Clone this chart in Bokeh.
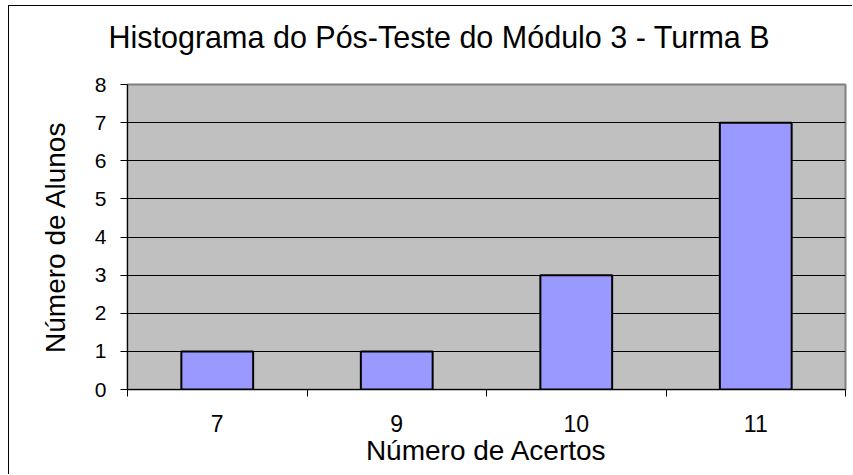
from bokeh.plotting import figure
from bokeh.models import FixedTicker, Range1d, ColumnDataSource, Title
from bokeh.embed import file_html
from bokeh.resources import INLINE

# ---- data ----
categories = ["7", "9", "10", "11"]
alunos = [1, 1, 3, 7]
y_ticks = [0, 1, 2, 3, 4, 5, 6, 7, 8]

title_text = "Histograma do Pós-Teste do Módulo 3 - Turma B"
x_title = "Número de Acertos"
y_title = "Número de Alunos"

FONT = "Liberation Sans"

xs = list(range(1, len(categories) + 1))
source = ColumnDataSource(dict(x=xs, top=alunos, cat=categories))

p = figure(
    width=844, height=469,
    output_backend="svg", toolbar_location=None,
    x_range=Range1d(0.5, len(categories) + 0.5),
    y_range=Range1d(0, 8),
    min_border_left=118, min_border_right=8,
    min_border_top=78, min_border_bottom=86,
    background_fill_color="#C0C0C0",
    border_fill_color="white",
)
p.styles = {"border-left": "1px solid black", "border-top": "1px solid black",
            "box-sizing": "border-box", "margin-left": "8px", "margin-top": "5px"}

p.vbar(x="x", top="top", bottom=0, width=0.4, source=source,
       fill_color="#9999FF", line_color="black", line_width=2)

# title
p.title.text = title_text
p.title.text_font = FONT
p.title.text_font_size = "30.5px"
p.title.text_font_style = "normal"
p.title.text_color = "black"
p.title.align = "left"
p.title.offset = -19
p.title.standoff = 0

# spacer between title and plot area
spacer = Title(text=" ", text_font=FONT, text_font_size="14px", standoff=13)
p.add_layout(spacer, "above")

# outline
p.outline_line_color = "#808080"
p.outline_line_width = 2

# grids
p.xgrid.visible = False
p.ygrid.grid_line_color = "black"
p.ygrid.grid_line_width = 1
p.ygrid.ticker = FixedTicker(ticks=y_ticks)

# y axis
p.yaxis.ticker = FixedTicker(ticks=y_ticks)
p.yaxis.axis_line_color = "black"
p.yaxis.major_tick_line_color = "black"
p.yaxis.major_tick_out = 7
p.yaxis.major_tick_in = 0
p.yaxis.minor_tick_line_color = None
p.yaxis.major_label_text_font = FONT
p.yaxis.major_label_text_font_size = "21px"
p.yaxis.major_label_text_color = "black"
p.yaxis.major_label_standoff = 14
p.yaxis.axis_label = y_title
p.yaxis.axis_label_text_font = FONT
p.yaxis.axis_label_text_font_size = "28px"
p.yaxis.axis_label_text_font_style = "normal"
p.yaxis.axis_label_text_color = "black"
p.yaxis.axis_label_standoff = 21

# x axis
p.xaxis.ticker = FixedTicker(ticks=xs, minor_ticks=[x - 0.5 for x in xs] + [xs[-1] + 0.5])
p.xaxis.major_label_overrides = {x: c for x, c in zip(xs, categories)}
p.xaxis.axis_line_color = "black"
p.xaxis.major_tick_out = 0
p.xaxis.major_tick_in = 0
p.xaxis.minor_tick_line_color = "black"
p.xaxis.minor_tick_out = 7
p.xaxis.minor_tick_in = 0
p.xaxis.major_label_text_font = FONT
p.xaxis.major_label_text_font_size = "23px"
p.xaxis.major_label_text_color = "black"
p.xaxis.major_label_standoff = 18
p.xaxis.axis_label = x_title
p.xaxis.axis_label_text_font = FONT
p.xaxis.axis_label_text_font_size = "28px"
p.xaxis.axis_label_text_font_style = "normal"
p.xaxis.axis_label_text_color = "black"
p.xaxis.axis_label_standoff = 0

open("out.html", "w").write(file_html(p, INLINE))
